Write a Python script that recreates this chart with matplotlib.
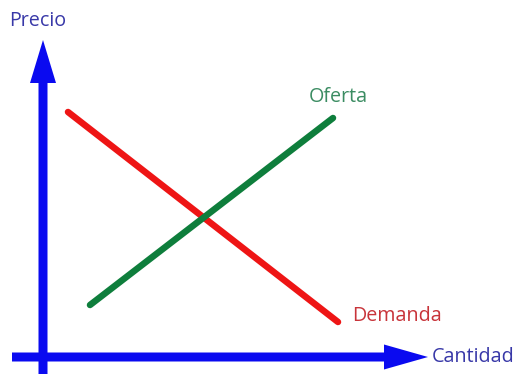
import matplotlib
matplotlib.use("Agg")
import matplotlib.pyplot as plt

# Conceptual supply/demand chart (units measured from the axes origin)
demand_q = [25, 295]
demand_p = [245, 35]
supply_q = [47, 290]
supply_p = [52, 239]

labels = {"y": "Precio", "x": "Cantidad", "supply": "Oferta", "demand": "Demanda"}

BLUE = "#0A0AF0"
RED = "#EE1515"
GREEN = "#0E7E3C"

fig = plt.figure(figsize=(5.2, 3.74), dpi=100)
ax = fig.add_axes([0, 0, 1, 1])
ax.set_xlim(-43, 477)
ax.set_ylim(-17, 357)
ax.axis("off")

# axes arrows
ax.arrow(0, -17, 0, 334, width=9, head_width=26, head_length=43,
         length_includes_head=True, color=BLUE, lw=0)
ax.arrow(-31, 0, 416, 0, width=9, head_width=25, head_length=44,
         length_includes_head=True, color=BLUE, lw=0)

ax.plot(demand_q, demand_p, color=RED, lw=4.7, solid_capstyle="round")
ax.plot(supply_q, supply_p, color=GREEN, lw=4.7, solid_capstyle="round")

font = "Open Sans"
fs = 14.2
ax.text(-34, 336, labels["y"], color="#3838A8", fontsize=fs, family=font,
        ha="left", va="center")
ax.text(389, 0, labels["x"], color="#3838A8", fontsize=fs, family=font,
        ha="left", va="center")
ax.text(266, 260, labels["supply"], color="#3B8C62", fontsize=fs, family=font,
        ha="left", va="center")
ax.text(309, 41, labels["demand"], color="#C8343A", fontsize=fs, family=font,
        ha="left", va="center")

fig.savefig("out.png", dpi=100, facecolor="white")
